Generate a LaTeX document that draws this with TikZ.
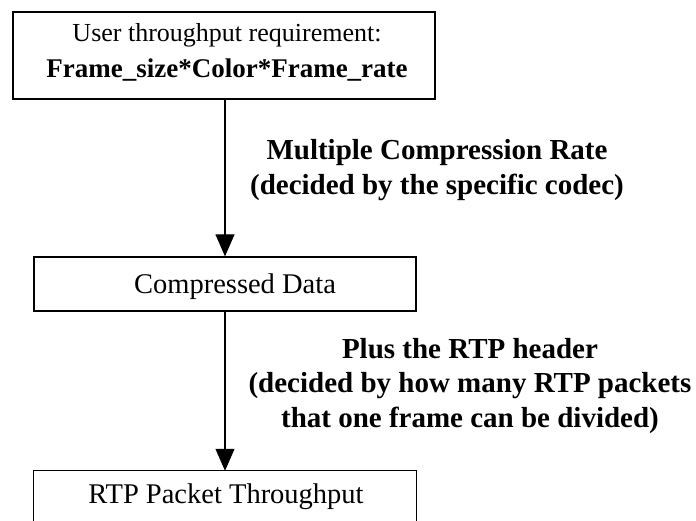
\documentclass[tikz,border=0pt]{standalone}
\usepackage{fontspec}
\setmainfont{Liberation Serif}
\usetikzlibrary{arrows.meta}
\tikzset{
  box/.style={draw, line width=1.3pt, inner sep=0pt, align=center},
  boxtext/.style={font=\fontsize{28.5}{36}\selectfont},
  flow/.style={line width=1.2pt, -{Triangle[length=22pt,width=19pt]}},
  note/.style={align=center, font=\fontsize{29}{34.5}\selectfont\bfseries},
}
\begin{document}
\begin{tikzpicture}[x=1pt,y=-1pt]
\useasboundingbox (0,0) rectangle (696,521);
% boxes
\node[box, minimum width=422pt, minimum height=87pt] (req) at (224,55.5) {};
\node[align=center, inner sep=0pt, font=\fontsize{26}{36}\selectfont] (reqtext) at (227,52)
  {User throughput requirement:\\
   {\fontsize{27}{36}\selectfont\bfseries Frame\_size*Color*Frame\_rate}};
\node[box, boxtext, minimum width=382pt, minimum height=54pt] (comp) at (225,284) {};
\node[boxtext, anchor=base] (comptext) at (235,294) {Compressed Data};
\node[inner sep=0pt, minimum width=382pt, minimum height=50pt] (rtp) at (225,496) {};
\node[boxtext, anchor=base] (rtptext) at (226,503) {RTP Packet Throughput};
\draw[line width=1.3pt] (rtp.south west) -- (rtp.north west) -- (rtp.north east) -- (rtp.south east);
% connectors
\draw[flow] (req.south -| comp.north) -- (comp.north);
\draw[flow] (comp.south) -- (rtp.north);
% labels
\node[note] (lab1) at (437,170) {Multiple Compression Rate\\(decided by the specific codec)};
\node[note] (lab2) at (470,386) {Plus the RTP header\\(decided by how many RTP packets\\that one frame can be divided)};
\end{tikzpicture}
\end{document}
